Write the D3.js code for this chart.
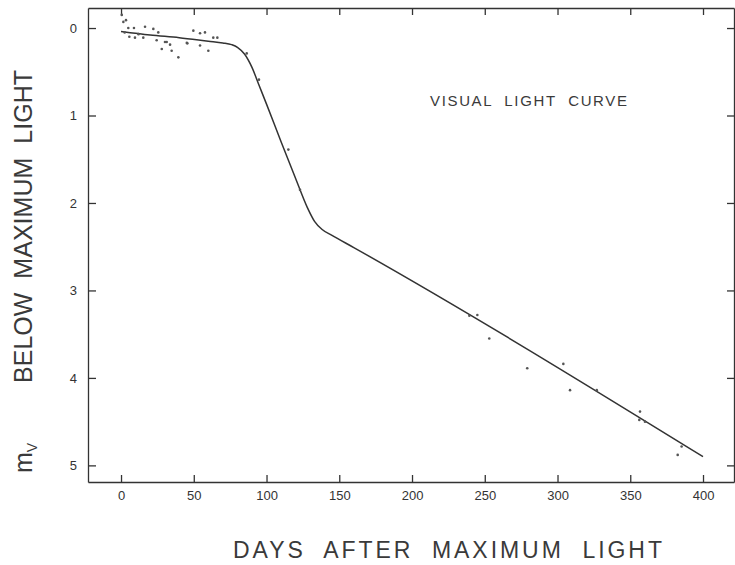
<!DOCTYPE html>
<meta charset="utf-8">
<style>
    body { margin: 0; background: #fff; }
    svg { background-color: #fff; font-family: "Liberation Sans", Arial, sans-serif; }
    .axis text { font-size: 13px; fill: #333; }
    .axis path, .axis line { stroke: #333; stroke-width: 1.3; }
    .ttl { fill: #3a3a3a; white-space: pre; }
</style>
<body>
<svg width="735" height="565"></svg>
<script src="https://d3js.org/d3.v7.min.js"></script>
<script>
    // fitted visual light curve (days after max, magnitudes below max)
    var curveDays = [0, 20, 40, 60, 70, 76, 80, 85, 90, 95, 100, 110, 120, 128, 133, 138, 145, 160, 400];
    var curveMags = [0.04, 0.08, 0.11, 0.15, 0.17, 0.19, 0.22, 0.30, 0.45, 0.66, 0.87, 1.30, 1.72, 2.05, 2.21, 2.30, 2.37, 2.51, 4.90];

    // individual observations
    var obsDays = [0.5, 1.6, 3.4, 5, 8.9, 16.5, 22.2, 25.6, 49.7, 54.3, 57.7, 63.4, 66.2, 5.7, 9.6, 15.3,
                   24.5, 30.2, 28, 34.8, 39.4, 33.7, 45.6, 54.3, 60, 31.4, 45.2, 2.5, 12,
                   86.4, 94.8, 115, 123,
                   239.4, 244.9, 253.1, 279.2, 304, 308.6, 327, 356.7, 356.2, 360.1, 382.6, 385.3];
    var obsMags = [-0.15, -0.07, -0.09, 0.0, 0.0, -0.015, 0.01, 0.05, 0.03, 0.06, 0.05, 0.11, 0.11, 0.10, 0.11, 0.11,
                   0.14, 0.16, 0.24, 0.26, 0.335, 0.19, 0.175, 0.20, 0.26, 0.16, 0.17, 0.05, 0.07,
                   0.29, 0.59, 1.39, 1.85,
                   3.29, 3.28, 3.55, 3.89, 3.84, 4.14, 4.14, 4.385, 4.48, 4.50, 4.88, 4.785];

    var xTicks = [0, 50, 100, 150, 200, 250, 300, 350, 400];
    var yTicks = [0, 1, 2, 3, 4, 5];

    var svg = d3.select("svg");
    var margin = { top: 8, right: 1, bottom: 83, left: 88 },
        width = svg.attr("width") - margin.left - margin.right,
        height = svg.attr("height") - margin.top - margin.bottom;

    var x = d3.scaleLinear().domain([-22.7, 421.3]).range([0, width]),
        y = d3.scaleLinear().domain([-0.229, 5.19]).range([0, height]);

    var g = svg.append("g")
        .attr("transform", "translate(" + margin.left + "," + margin.top + ")");

    g.append("g").attr("class", "axis")
        .attr("transform", "translate(0," + height + ")")
        .call(d3.axisBottom(x).tickValues(xTicks).tickSize(-7).tickSizeOuter(0).tickPadding(9));
    g.append("g").attr("class", "axis")
        .call(d3.axisTop(x).tickValues(xTicks).tickSize(-7).tickSizeOuter(0).tickFormat(""));
    g.append("g").attr("class", "axis")
        .call(d3.axisLeft(y).tickValues(yTicks).tickSize(-8).tickSizeOuter(0).tickPadding(11)
            .tickFormat(d3.format("d")));
    g.append("g").attr("class", "axis")
        .attr("transform", "translate(" + width + ",0)")
        .call(d3.axisRight(y).tickValues(yTicks).tickSize(-7).tickSizeOuter(0).tickFormat(""));

    var curve = curveDays.map(function (d, i) { return [d, curveMags[i]]; });
    var line = d3.line()
        .x(function (d) { return x(d[0]); })
        .y(function (d) { return y(d[1]); })
        .curve(d3.curveMonotoneX);

    g.append("path")
        .datum(curve)
        .attr("d", line)
        .attr("fill", "none")
        .attr("stroke", "#333")
        .attr("stroke-width", 1.5);

    g.selectAll(".obs")
        .data(obsDays)
        .enter().append("circle")
        .attr("class", "obs")
        .attr("cx", function (d) { return x(d); })
        .attr("cy", function (d, i) { return y(obsMags[i]); })
        .attr("r", 1.3)
        .attr("fill", "#555");

    svg.append("text")
        .attr("class", "ttl")
        .attr("x", 430).attr("y", 106)
        .attr("textLength", 197).attr("lengthAdjust", "spacing")
        .style("font-size", "15px")
        .text("VISUAL  LIGHT  CURVE");

    svg.append("text")
        .attr("class", "ttl")
        .attr("x", 233).attr("y", 558)
        .attr("textLength", 429).attr("lengthAdjust", "spacing")
        .style("font-size", "23px")
        .text("DAYS  AFTER  MAXIMUM  LIGHT");

    svg.append("text")
        .attr("class", "ttl")
        .attr("transform", "translate(32,383) rotate(-90)")
        .attr("textLength", 313).attr("lengthAdjust", "spacing")
        .style("font-size", "25px")
        .text("BELOW  MAXIMUM  LIGHT");

    var mv = svg.append("text")
        .attr("class", "ttl")
        .attr("transform", "translate(32,473) rotate(-90)")
        .style("font-size", "25px");
    mv.append("tspan").text("m");
    mv.append("tspan").attr("dy", 5).style("font-size", "14px").text("V");
</script>
</body>
